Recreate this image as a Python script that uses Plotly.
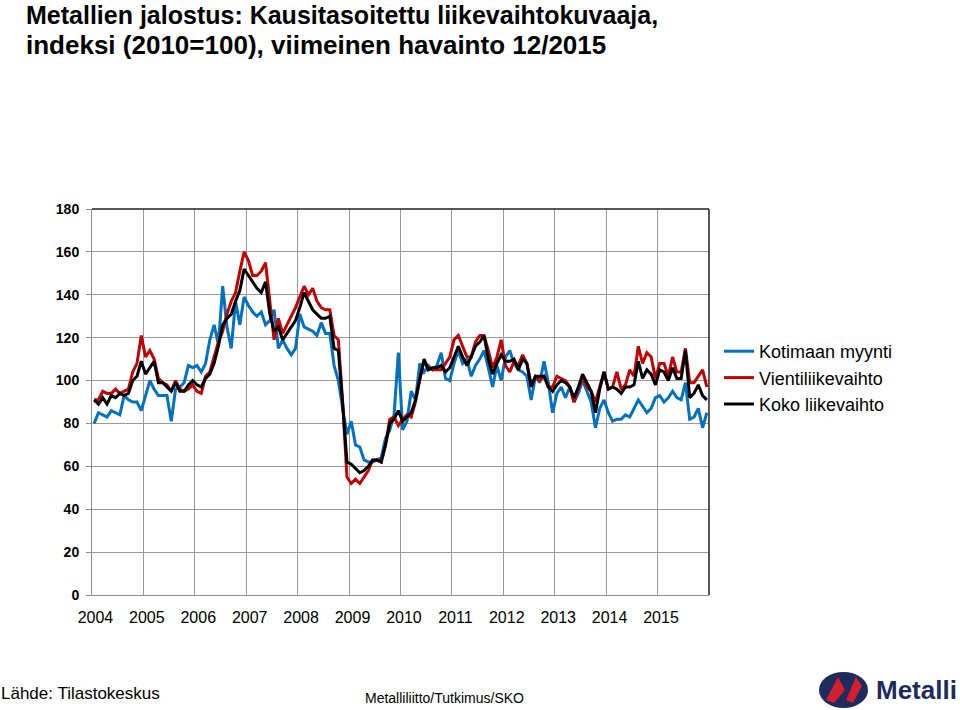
import plotly.graph_objects as go

# ---- data (monthly, Jan 2004 .. Dec 2015) ----
years = [str(y) for y in range(2004, 2016)]
month_index = list(range(144))

kotimaan_myynti = [
    80, 85, 84, 83, 86, 85, 84, 93, 91, 90, 90, 86,
    93, 100, 96, 93, 93, 93, 81, 96, 97, 99, 107, 106,
    107, 104, 108, 119, 126, 117, 144, 125, 115, 137, 126, 139,
    135, 132, 130, 132, 126, 128, 133, 115, 119, 115, 112, 115,
    131, 125, 124, 123, 121, 127, 122, 122, 107, 100, 87, 75,
    81, 70, 69, 63, 62, 62, 63, 64, 73, 77, 84, 113,
    77, 81, 95, 91, 108, 104, 107, 105, 107, 113, 101, 100,
    108, 114, 108, 110, 102, 107, 110, 114, 106, 97, 107, 100,
    111, 114, 108, 105, 104, 102, 91, 102, 99, 109, 99, 85,
    94, 97, 92, 97, 90, 94, 100, 95, 90, 78, 87, 91,
    85, 81, 82, 82, 84, 83, 87, 91, 88, 85, 87, 92,
    93, 90, 92, 95, 92, 91, 99, 82, 83, 87, 78, 85,
]

vientiliikevaihto = [
    91, 91, 95, 94, 94, 96, 94, 95, 96, 104, 108, 121,
    111, 114, 110, 101, 99, 98, 95, 100, 96, 95, 96, 98,
    95, 94, 102, 104, 111, 118, 123, 131, 137, 141, 151, 160,
    156, 149, 149, 151, 155, 137, 119, 129, 122, 126, 130, 134,
    139, 144, 140, 143, 137, 134, 133, 133, 121, 119, 90, 55,
    52, 54, 52, 55, 58, 63, 63, 62, 70, 82, 83, 79,
    82, 84, 83, 90, 101, 109, 106, 105, 105, 105, 108, 111,
    119, 121, 116, 111, 111, 118, 121, 121, 114, 106, 111, 119,
    107, 104, 109, 107, 112, 108, 98, 102, 100, 102, 97, 97,
    102, 101, 100, 97, 90, 96, 102, 97, 95, 90, 97, 104,
    96, 97, 104, 96, 98, 105, 102, 116, 108, 113, 111, 101,
    108, 108, 102, 111, 104, 104, 115, 99, 99, 102, 105, 97,
]

koko_liikevaihto = [
    91, 89, 92, 89, 93, 92, 94, 93, 94, 100, 102, 109,
    103, 106, 109, 99, 99, 97, 95, 99, 95, 95, 98, 100,
    98, 97, 101, 103, 108, 116, 126, 129, 131, 137, 142, 152,
    149, 146, 143, 141, 146, 131, 123, 125, 119, 122, 125, 128,
    134, 141, 137, 133, 131, 129, 129, 130, 115, 114, 89, 62,
    61, 59, 57, 58, 60, 63, 63, 62, 70, 80, 82, 86,
    81, 83, 85, 91, 100, 110, 105, 106, 106, 107, 104, 106,
    111, 116, 111, 107, 111, 116, 118, 121, 110, 103, 108, 112,
    109, 109, 110, 105, 110, 108, 97, 102, 102, 102, 97, 95,
    98, 100, 99, 97, 92, 97, 103, 99, 95, 85, 96, 104,
    96, 97, 96, 94, 97, 97, 98, 109, 101, 105, 103, 98,
    105, 104, 100, 106, 101, 101, 114, 92, 94, 98, 93, 91,
]

series_names = ["Kotimaan myynti", "Vientiliikevaihto", "Koko liikevaihto"]
series_colors = ["#0070C0", "#C00000", "#000000"]
y_ticks = [0, 20, 40, 60, 80, 100, 120, 140, 160, 180]

# ---- geometry helpers (plot area in pixels) ----
W, H = 960, 710
L, R, T, B = 92, 709, 209, 595
PW, PH = R - L, B - T


def px(x):
    return (x - L) / PW


def py(y):
    return (B - y) / PH


FONT = "Liberation Sans, Arial, sans-serif"

fig = go.Figure()
for name, vals, col in zip(series_names,
                           [kotimaan_myynti, vientiliikevaihto, koko_liikevaihto],
                           series_colors):
    fig.add_trace(go.Scatter(x=month_index, y=vals, mode="lines", name=name,
                             line=dict(color=col, width=3), hoverinfo="skip"))

fig.update_layout(
    width=W, height=H,
    margin=dict(l=L, r=W - R, t=T, b=H - B, pad=0),
    paper_bgcolor="white", plot_bgcolor="white",
    font=dict(family=FONT, color="black"),
    showlegend=True,
    legend=dict(x=px(719), y=py(378), xanchor="left", yanchor="middle",
                font=dict(size=18, family=FONT, color="black"),
                bgcolor="rgba(0,0,0,0)", itemwidth=30, tracegroupgap=0),
    xaxis=dict(
        range=[-0.5, 143.5], showgrid=False, zeroline=False,
        tickmode="array", tickvals=[12 * k + 0.3 for k in range(12)], ticktext=years,
        ticks="", tickfont=dict(size=16, family=FONT), ticklabelstandoff=8,
        showline=True, linecolor="#8c8c8c", linewidth=1,
        minor=dict(tickmode="array", tickvals=[12 * k - 0.5 for k in range(13)],
                   showgrid=True, gridcolor="#9a9a9a", gridwidth=1, ticks=""),
        fixedrange=True, automargin=False,
    ),
    yaxis=dict(
        range=[0, 180], tickmode="array", tickvals=y_ticks,
        ticktext=["<b>%d</b>" % v for v in y_ticks],
        showgrid=True, gridcolor="#9a9a9a", gridwidth=1, zeroline=False,
        ticks="outside", ticklen=5, tickcolor="#8c8c8c",
        tickfont=dict(size=14, family=FONT), ticklabelstandoff=4,
        showline=True, linecolor="#8c8c8c", linewidth=1,
        fixedrange=True, automargin=False,
    ),
)

# frame: top and right dark lines
fig.add_shape(type="line", xref="paper", yref="paper", x0=0, x1=1, y0=1, y1=1,
              line=dict(color="#202020", width=1.5))
fig.add_shape(type="line", xref="paper", yref="paper", x0=1, x1=1, y0=0, y1=1,
              line=dict(color="#202020", width=1.5))

# title
fig.add_annotation(text="<b>Metallien jalostus: Kausitasoitettu liikevaihtokuvaaja,</b>",
                   xref="paper", yref="paper", x=px(24), y=py(15),
                   xanchor="left", yanchor="middle", showarrow=False,
                   font=dict(size=25, family=FONT, color="black"))
fig.add_annotation(text="<b>indeksi (2010=100), viimeinen havainto 12/2015</b>",
                   xref="paper", yref="paper", x=px(24), y=py(45),
                   xanchor="left", yanchor="middle", showarrow=False,
                   font=dict(size=26, family=FONT, color="black"))

# footer
fig.add_annotation(text="Lähde: Tilastokeskus", xref="paper", yref="paper",
                   x=px(-1), y=py(693), xanchor="left", yanchor="middle",
                   showarrow=False, font=dict(size=17, family=FONT, color="black"))
fig.add_annotation(text="Metalliliitto/Tutkimus/SKO", xref="paper", yref="paper",
                   x=px(363), y=py(698), xanchor="left", yanchor="middle",
                   showarrow=False, font=dict(size=14, family=FONT, color="black"))

# logo approximation
fig.add_shape(type="circle", xref="paper", yref="paper",
              x0=px(819), x1=px(868), y0=py(708), y1=py(672),
              fillcolor="#1d2b5e", line=dict(width=0))
fig.add_shape(type="path", xref="paper", yref="paper",
              path="M %f %f L %f %f L %f %f L %f %f Z" % (
                  px(826), py(700), px(838), py(677), px(845), py(690), px(834), py(703)),
              fillcolor="#d0202e", line=dict(width=0))
fig.add_shape(type="path", xref="paper", yref="paper",
              path="M %f %f L %f %f L %f %f L %f %f Z" % (
                  px(846), py(700), px(856), py(677), px(862), py(686), px(853), py(703)),
              fillcolor="#d0202e", line=dict(width=0))
fig.add_annotation(text="<b>Metalli</b>", xref="paper", yref="paper",
                   x=px(874), y=py(690), xanchor="left", yanchor="middle",
                   showarrow=False,
                   font=dict(size=26, family=FONT, color="#1d2b5e"))

fig.write_html("out.html", config={"displayModeBar": False},
               post_script="document.body.style.margin='0px';"
               "document.body.style.overflow='hidden';")
